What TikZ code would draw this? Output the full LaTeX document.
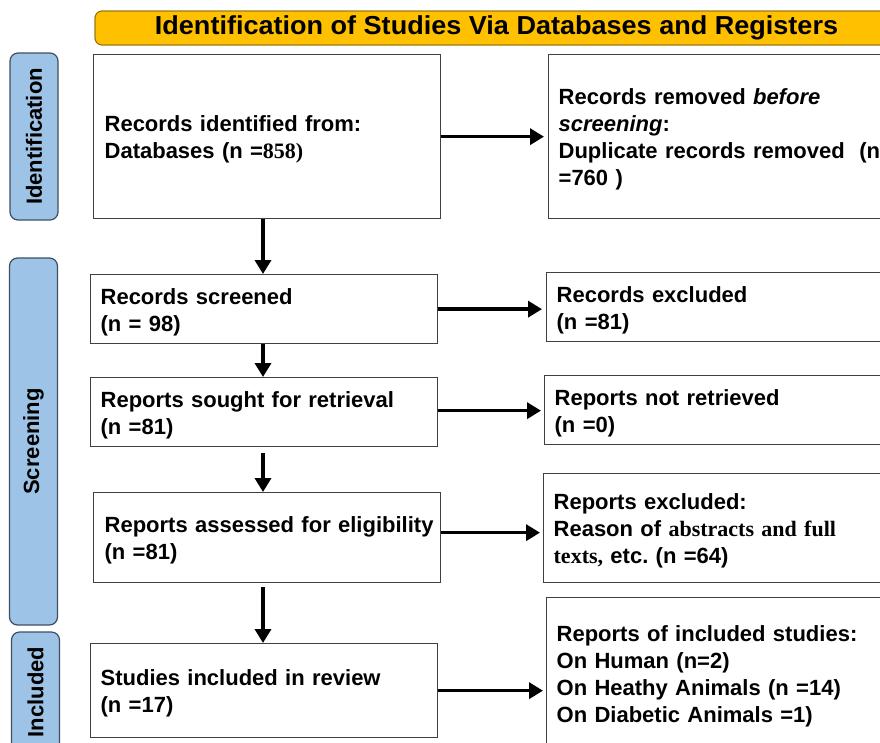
\documentclass[tikz,border=0pt]{standalone}
\usepackage{fontspec}
\usepackage{graphicx}
\setmainfont{Liberation Sans}
\newfontfamily\serifb{Liberation Serif}
\usetikzlibrary{arrows.meta}
\frenchspacing
\definecolor{bannerfill}{HTML}{FFC000}
\definecolor{bannerline}{HTML}{9C7A10}
\definecolor{sidefill}{HTML}{9DC3E6}
\definecolor{sideline}{HTML}{3F4F63}
\definecolor{boxline}{HTML}{404040}
\newcommand\toppad{\rule{0pt}{22pt}}
\begin{document}
\begin{tikzpicture}[x=1pt,y=-1pt,
  box/.style={draw=boxline, line width=1.3pt, fill=white, inner xsep=10pt, inner ysep=0pt,
    font=\bfseries\fontsize{22}{27}\selectfont, align=left, anchor=north west},
  sidelabel/.style={draw=sideline, line width=1.2pt, fill=sidefill, rounded corners=8pt,
    rotate=90, minimum height=48pt, inner sep=0pt, font=\bfseries\fontsize{22}{26}\selectfont},
  flow/.style={line width=3.6pt, -{Triangle[length=14pt,width=16pt]}},
]
\useasboundingbox (0,0) rectangle (880,742);
% banner
\node[draw=bannerline, line width=1.2pt, fill=bannerfill, rounded corners=7pt,
  minimum width=803pt, minimum height=34pt, inner sep=0pt,
  font=\bfseries\fontsize{26}{30}\selectfont] (banner) at (496.5,28)
  {\scalebox{1.04}[1]{Identification of Studies Via Databases and Registers}};
% side labels
\node[sidelabel, minimum width=167pt] (sid) at (34,136.5) {Identification};
\node[sidelabel, minimum width=367pt] (sscr) at (33.5,441.5) {Screening};
\node[sidelabel, minimum width=120pt] (sinc) at (35.5,692) {Included};
% left boxes
\node[box, inner xsep=11pt, minimum height=164pt, text width=325pt] (b1) at (93,54)
  {\toppad Records identified from:\\Databases (n =\serifb 858)};
\node[box, minimum height=69pt, text width=327pt] (b2) at (90,274)
  {\toppad Records screened\\(n = 98)};
\node[box, minimum height=69pt, text width=327pt] (b3) at (90,377)
  {\toppad Reports sought for retrieval\\(n =81)};
\node[box, inner xsep=11pt, minimum height=90pt, text width=325pt] (b4) at (93,492)
  {\toppad\mbox{Reports assessed for eligibility}\\(n =81)};
\node[box, minimum height=94pt, text width=327pt] (b5) at (90,643)
  {\toppad Studies included in review\\(n =17)};
% right boxes
\node[box, minimum height=164pt, text width=340pt] (r1) at (548,54)
  {\toppad Records removed \textit{before}\\\textit{screening}:\\Duplicate records removed~~(n\\=760 )};
\node[box, minimum height=69pt, text width=340pt] (r2) at (546,272)
  {\toppad Records excluded\\(n =81)};
\node[box, minimum height=69pt, text width=340pt] (r3) at (544,375)
  {\toppad Reports not retrieved\\(n =0)};
\node[box, minimum height=109pt, text width=340pt] (r4) at (543,473)
  {\toppad Reports excluded:\\Reason of {\serifb abstracts and full}\\{\serifb texts,} etc. (n =64)};
\node[box, minimum height=152pt, text width=340pt] (r5) at (546,597)
  {\toppad Reports of included studies:\\On Human (n=2)\\On Heathy Animals (n =14)\\On Diabetic Animals =1)};
% vertical arrows
\coordinate (ax) at (263,0);
\draw[flow] (b1.south -| ax) -- (b2.north -| ax);
\draw[flow] (b2.south -| ax) -- (b3.north -| ax);
\draw[flow, shorten <=6pt] (b3.south -| ax) -- (b4.north -| ax);
\draw[flow, shorten <=4pt] (b4.south -| ax) -- (b5.north -| ax);
% horizontal arrows
\draw[flow, shorten >=4pt] (b1.east) -- (b1.east -| r1.west);
\draw[flow, shorten >=4pt] (b2.east) -- (b2.east -| r2.west);
\draw[flow, shorten >=3pt] ([yshift=1.5pt]b3.east) -- ([yshift=1.5pt]b3.east -| r3.west);
\draw[flow, shorten >=3pt] ([yshift=5pt]b4.east) -- ([yshift=5pt]b4.east -| r4.west);
\draw[flow, shorten >=3pt] (b5.east) -- (b5.east -| r5.west);
\end{tikzpicture}
\end{document}
